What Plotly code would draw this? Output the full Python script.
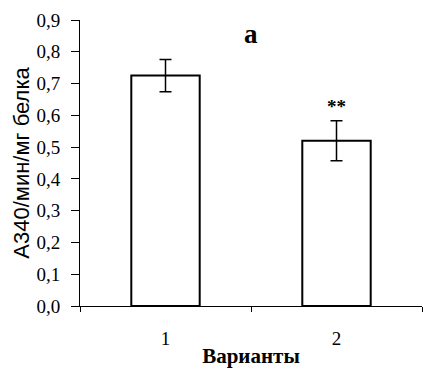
import plotly.graph_objects as go

categories = ["1", "2"]
values = [0.725, 0.52]
errors = [0.051, 0.063]
y_tickvals = [0.0, 0.1, 0.2, 0.3, 0.4, 0.5, 0.6, 0.7, 0.8, 0.9]
y_ticktext = ["0,0", "0,1", "0,2", "0,3", "0,4", "0,5", "0,6", "0,7", "0,8", "0,9"]
significance = ["", "**"]

serif = "Liberation Serif, Times New Roman, serif"
sans = "Liberation Sans, Arial, sans-serif"

fig = go.Figure()
fig.add_trace(go.Bar(
    x=categories, y=values,
    width=0.40,
    marker=dict(color="white", line=dict(color="black", width=2)),
    error_y=dict(type="data", array=errors, visible=True, color="black", thickness=1.5, width=6),
    showlegend=False,
))

for i, (v, e, s) in enumerate(zip(values, errors, significance)):
    if s:
        fig.add_annotation(x=i, y=v + e, text="<b>" + s + "</b>", showarrow=False,
                           yshift=14, font=dict(family=serif, size=19, color="black"))

fig.add_annotation(xref="paper", yref="paper", x=0.5, y=0.951, text="<b>a</b>",
                   showarrow=False, xanchor="center", yanchor="middle",
                   font=dict(family=serif, size=27, color="black"))

fig.update_layout(
    width=423, height=369,
    margin=dict(l=80, r=1, t=20, b=63),
    paper_bgcolor="white", plot_bgcolor="white",
    xaxis=dict(
        type="category", range=[-0.5, 1.5], showline=True, linecolor="black", linewidth=1,
        ticks="outside", tickson="boundaries", ticklen=5, tickcolor="black",
        tickfont=dict(family=serif, size=19, color="black"),
        ticklabelstandoff=15,
        title=dict(text="<b>Варианты</b>", font=dict(family=serif, size=21, color="black"), standoff=0),
        showgrid=False, zeroline=False,
    ),
    yaxis=dict(
        range=[0, 0.9], showline=True, linecolor="black", linewidth=1,
        ticks="outside", ticklen=8, tickcolor="black",
        tickvals=y_tickvals, ticktext=y_ticktext,
        tickfont=dict(family=serif, size=19, color="black"),
        ticklabelstandoff=7,
        title=dict(text="A340/мин/мг белка", font=dict(family=sans, size=22, color="black"), standoff=0),
        showgrid=False, zeroline=False,
    ),
)

fig.write_html("out.html")
